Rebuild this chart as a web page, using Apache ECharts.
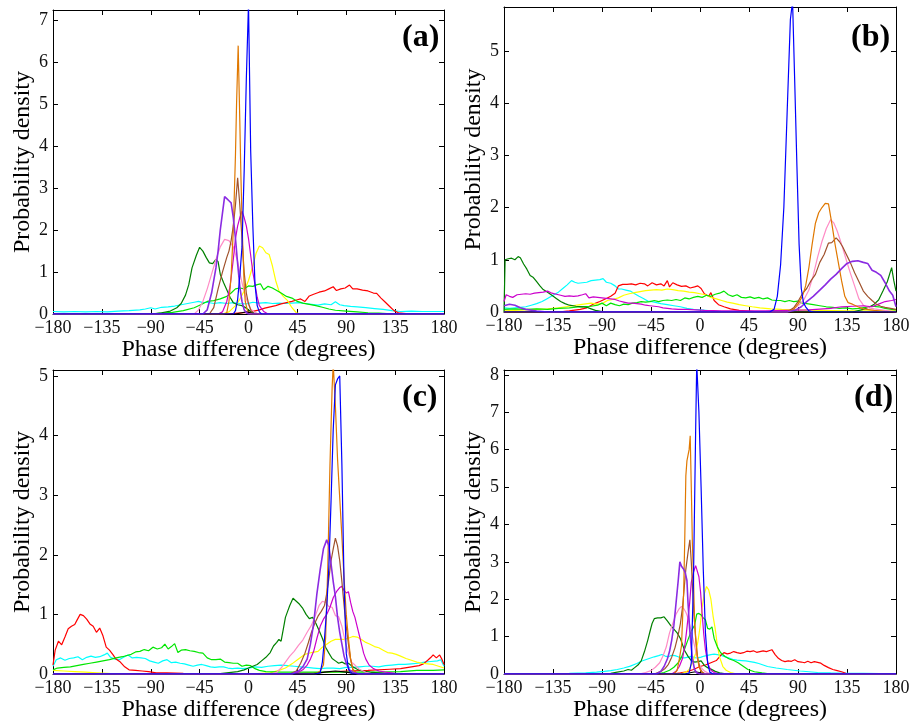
<!DOCTYPE html>
<html>
<head>
<meta charset="utf-8">
<script src="https://cdn.jsdelivr.net/npm/echarts@6/dist/echarts.min.js"></script>
<style>
  html, body { margin: 0; padding: 0; background: #fff; }
  #chart { width: 915px; height: 724px; }
</style>
</head>
<body>
<div id="chart"></div>
<script>
// x ticks (degrees) and panel labels
const xTicks = [-180, -135, -90, -45, 0, 45, 90, 135, 180];
const panelLabels = ['(a)', '(b)', '(c)', '(d)'];
const yMax = [7.25, 5.84, 5.1, 8.13];

// ---- panel (a) : [phase, density] ----
const aCyan = [[-180,0.06],[-170,0.05],[-160,0.06],[-150,0.05],[-140,0.06],[-130,0.05],[-120,0.07],[-110,0.08],[-100,0.1],[-95,0.12],[-90,0.15],[-86,0.12],[-80,0.16],[-74,0.17],[-68,0.19],[-62,0.22],[-56,0.25],[-50,0.28],[-46,0.3],[-42,0.27],[-38,0.28],[-32,0.25],[-26,0.27],[-20,0.25],[-14,0.27],[-8,0.25],[-2,0.24],[4,0.28],[10,0.26],[16,0.27],[22,0.25],[28,0.26],[34,0.25],[40,0.26],[46,0.27],[52,0.25],[58,0.23],[64,0.21],[70,0.24],[76,0.22],[80,0.29],[84,0.22],[88,0.2],[94,0.18],[100,0.17],[108,0.15],[116,0.13],[124,0.11],[132,0.08],[140,0.06],[150,0.07],[160,0.06],[170,0.06],[180,0.06]];
const aRed = [[-180,0],[-20,0],[-10,0.02],[0,0.04],[5,0.07],[10,0.1],[15,0.14],[20,0.17],[25,0.2],[30,0.24],[35,0.27],[40,0.3],[45,0.34],[48,0.36],[52,0.3],[56,0.43],[60,0.47],[65,0.52],[70,0.55],[74,0.6],[78,0.65],[81,0.56],[85,0.6],[89,0.62],[93,0.69],[96,0.6],[100,0.6],[105,0.57],[110,0.55],[115,0.5],[118,0.49],[122,0.38],[126,0.28],[130,0.18],[134,0.08],[138,0.03],[145,0.01],[160,0],[180,0]];
const aYellow = [[-180,0],[-24,0],[-18,0.05],[-12,0.2],[-8,0.35],[-4,0.55],[0,0.8],[4,1.15],[7,1.45],[10,1.62],[13,1.58],[16,1.46],[19,1.42],[22,1.15],[25,0.8],[28,0.55],[32,0.42],[36,0.32],[40,0.15],[44,0.03],[48,0],[180,0]];
const aLime = [[-180,0],[-90,0],[-80,0.02],[-70,0.04],[-60,0.08],[-50,0.15],[-44,0.22],[-38,0.3],[-32,0.32],[-26,0.36],[-20,0.42],[-16,0.5],[-12,0.6],[-8,0.62],[-4,0.6],[0,0.67],[4,0.66],[8,0.7],[11,0.72],[14,0.58],[18,0.66],[22,0.62],[26,0.56],[30,0.5],[35,0.42],[40,0.38],[45,0.3],[50,0.26],[56,0.23],[62,0.2],[68,0.16],[74,0.12],[80,0.09],[90,0.07],[100,0.05],[110,0.03],[120,0.02],[135,0],[180,0]];
const aDarkGreen = [[-180,0],[-90,0],[-80,0.03],[-72,0.07],[-66,0.15],[-62,0.25],[-58,0.45],[-55,0.7],[-52,1.1],[-48,1.4],[-45,1.59],[-42,1.5],[-39,1.35],[-36,1.22],[-33,1.2],[-30,1.3],[-28,1.25],[-26,0.95],[-23,0.75],[-20,0.58],[-17,0.4],[-14,0.27],[-10,0.22],[-6,0.2],[-2,0.14],[2,0.06],[6,0.02],[10,0],[180,0]];
const aPink = [[-180,0],[-50,0],[-46,0.1],[-42,0.3],[-38,0.6],[-34,0.95],[-30,1.3],[-26,1.6],[-22,1.78],[-18,1.75],[-14,1.6],[-10,1.25],[-6,0.75],[-2,0.35],[2,0.12],[6,0.03],[10,0],[180,0]];
const aMagenta = [[-180,0],[-28,0],[-24,0.05],[-20,0.3],[-17,0.65],[-14,1.3],[-12,1.8],[-10,2.1],[-8,2.3],[-6,2.45],[-4,2.3],[-2,2.1],[0,1.8],[2,1.4],[4,1.0],[6,0.7],[8,0.4],[10,0.2],[14,0.06],[18,0],[180,0]];
const aBrown = [[-180,0],[-36,0],[-32,0.15],[-28,0.6],[-24,1.0],[-20,1.35],[-18,1.5],[-16,1.75],[-14,2.1],[-12,2.6],[-10,3.25],[-8,2.6],[-6,1.8],[-4,1.0],[-2,0.5],[0,0.25],[2,0.1],[4,0],[180,0]];
const aOrange = [[-180,0],[-22,0],[-20,0.03],[-18,0.3],[-16,0.9],[-14,2.0],[-12,3.8],[-11,5.0],[-9.5,6.4],[-8,4.6],[-7,3.3],[-5.5,1.8],[-4,0.7],[-3,0.3],[-1,0.08],[2,0],[180,0]];
const aBlack = [[-180,0],[-12,0],[-6,0.03],[-2,0.05],[2,0.03],[6,0],[180,0]];
const aViolet = [[-180,0],[-42,0],[-38,0.1],[-34,0.5],[-30,1.1],[-28,1.5],[-26,2.0],[-24,2.4],[-22,2.8],[-20,2.75],[-18,2.7],[-16,2.65],[-14,2.3],[-12,1.8],[-10,1.2],[-8,0.65],[-6,0.3],[-4,0.1],[-2,0.03],[0,0],[180,0]];
const aBlue = [[-180,0],[-14,0],[-12,0.08],[-10,0.35],[-8,0.9],[-6,1.6],[-4,3.4],[-2,5.6],[0,7.4],[2,3.9],[4,2.1],[6,0.7],[8,0.2],[10,0.05],[12,0],[180,0]];

// ---- panel (b) ----
const bCyan = [[-180,0.08],[-175,0.07],[-170,0.08],[-165,0.09],[-160,0.1],[-155,0.13],[-150,0.16],[-145,0.2],[-140,0.26],[-135,0.32],[-130,0.38],[-126,0.45],[-122,0.52],[-118,0.6],[-115,0.57],[-112,0.55],[-108,0.56],[-104,0.57],[-100,0.6],[-96,0.61],[-92,0.62],[-89,0.64],[-86,0.57],[-82,0.55],[-78,0.5],[-75,0.44],[-72,0.44],[-68,0.42],[-64,0.4],[-60,0.35],[-56,0.3],[-52,0.26],[-48,0.21],[-44,0.2],[-40,0.18],[-36,0.16],[-30,0.14],[-24,0.12],[-18,0.1],[-12,0.07],[-6,0.05],[0,0.04],[10,0.02],[20,0.01],[100,0.01],[180,0.01]];
const bRed = [[-180,0],[-130,0],[-120,0.02],[-110,0.05],[-104,0.08],[-98,0.15],[-92,0.2],[-86,0.26],[-82,0.3],[-78,0.36],[-75,0.5],[-71,0.53],[-67,0.53],[-63,0.54],[-59,0.52],[-55,0.55],[-51,0.54],[-48,0.5],[-44,0.56],[-40,0.52],[-36,0.54],[-33,0.5],[-30,0.6],[-28,0.48],[-25,0.56],[-21,0.52],[-17,0.49],[-13,0.5],[-9,0.46],[-5,0.48],[-2,0.5],[1,0.45],[4,0.35],[8,0.3],[10,0.37],[13,0.22],[17,0.14],[22,0.1],[28,0.06],[36,0.03],[50,0.01],[70,0],[180,0]];
const bYellow = [[-180,0.02],[-170,0.03],[-160,0.04],[-150,0.05],[-140,0.06],[-130,0.08],[-120,0.11],[-110,0.14],[-100,0.17],[-95,0.15],[-90,0.16],[-85,0.22],[-80,0.24],[-75,0.27],[-70,0.32],[-65,0.35],[-60,0.37],[-55,0.39],[-50,0.41],[-45,0.42],[-40,0.43],[-35,0.42],[-30,0.44],[-25,0.43],[-20,0.41],[-15,0.4],[-10,0.38],[-5,0.37],[0,0.35],[5,0.33],[10,0.28],[15,0.25],[20,0.22],[25,0.19],[30,0.17],[36,0.14],[42,0.12],[48,0.1],[55,0.08],[65,0.06],[75,0.05],[90,0.04],[110,0.03],[135,0.02],[160,0.02],[180,0.02]];
const bLime = [[-180,0.05],[-170,0.06],[-160,0.05],[-150,0.06],[-140,0.05],[-130,0.07],[-120,0.08],[-110,0.1],[-100,0.11],[-94,0.13],[-90,0.17],[-86,0.12],[-82,0.17],[-78,0.14],[-74,0.12],[-70,0.15],[-66,0.14],[-62,0.17],[-58,0.18],[-54,0.2],[-50,0.19],[-46,0.2],[-42,0.22],[-38,0.2],[-34,0.22],[-30,0.23],[-26,0.22],[-22,0.24],[-18,0.22],[-14,0.27],[-10,0.25],[-6,0.28],[-2,0.3],[2,0.28],[6,0.32],[10,0.3],[14,0.34],[18,0.36],[22,0.4],[26,0.33],[30,0.3],[34,0.33],[38,0.28],[42,0.27],[46,0.29],[50,0.26],[54,0.28],[58,0.25],[62,0.27],[66,0.23],[70,0.22],[74,0.22],[78,0.2],[82,0.22],[86,0.2],[90,0.21],[94,0.17],[98,0.16],[104,0.14],[110,0.12],[116,0.1],[122,0.09],[128,0.07],[134,0.08],[140,0.06],[146,0.07],[152,0.09],[158,0.11],[164,0.1],[170,0.07],[176,0.05],[180,0.04]];
const bDarkGreen = [[-180,0],[-179,1.0],[-176,1.02],[-173,1.03],[-170,1.0],[-167,1.06],[-165,1.04],[-162,0.92],[-159,0.82],[-156,0.7],[-153,0.66],[-150,0.58],[-147,0.5],[-144,0.43],[-140,0.38],[-136,0.32],[-132,0.26],[-128,0.2],[-124,0.16],[-120,0.13],[-114,0.11],[-108,0.1],[-104,0.09],[-100,0.06],[-96,0.03],[-90,0.01],[-80,0],[140,0],[150,0.05],[156,0.1],[160,0.15],[164,0.23],[168,0.4],[172,0.58],[176,0.85],[178,0.6],[180,0.4]];
const bPink = [[-180,0],[80,0],[85,0.05],[90,0.12],[95,0.22],[100,0.42],[104,0.7],[108,1.05],[112,1.35],[116,1.6],[120,1.77],[123,1.7],[126,1.55],[130,1.3],[134,1.02],[138,0.75],[142,0.5],[146,0.25],[150,0.13],[155,0.08],[160,0.06],[170,0.03],[180,0]];
const bMagenta = [[-180,0.2],[-178,0.33],[-175,0.3],[-172,0.28],[-168,0.33],[-164,0.34],[-160,0.35],[-156,0.34],[-152,0.36],[-148,0.37],[-144,0.38],[-140,0.4],[-136,0.36],[-132,0.34],[-128,0.32],[-124,0.3],[-120,0.31],[-116,0.3],[-112,0.31],[-108,0.33],[-105,0.35],[-102,0.27],[-98,0.29],[-94,0.28],[-90,0.27],[-86,0.26],[-82,0.25],[-78,0.24],[-74,0.21],[-70,0.19],[-66,0.17],[-62,0.17],[-58,0.16],[-54,0.15],[-50,0.13],[-46,0.12],[-42,0.11],[-38,0.1],[-34,0.08],[-30,0.07],[-26,0.06],[-20,0.05],[-12,0.05],[-4,0.04],[4,0.03],[20,0.02],[60,0.02],[100,0.04],[120,0.07],[130,0.1],[140,0.11],[150,0.12],[158,0.1],[164,0.15],[170,0.2],[176,0.22],[180,0.24]];
const bBrown = [[-180,0],[80,0],[86,0.08],[90,0.2],[94,0.35],[98,0.45],[102,0.6],[106,0.72],[110,0.95],[114,1.1],[118,1.32],[121,1.33],[125,1.42],[128,1.35],[131,1.25],[134,1.12],[138,0.95],[142,0.75],[146,0.58],[150,0.4],[154,0.3],[158,0.22],[162,0.15],[166,0.11],[170,0.09],[175,0.07],[180,0.05]];
const bOrange = [[-180,0],[80,0],[86,0.05],[90,0.15],[94,0.3],[97,0.5],[100,0.85],[103,1.3],[106,1.7],[109,1.9],[112,2.0],[115,2.08],[118,2.07],[121,1.7],[124,1.3],[127,0.95],[130,0.6],[133,0.3],[136,0.18],[140,0.15],[145,0.1],[150,0.06],[160,0.03],[170,0.01],[180,0]];
const bBlack = [[-180,0],[180,0]];
const bViolet = [[-180,0.12],[-175,0.15],[-170,0.13],[-165,0.08],[-160,0.05],[-150,0.02],[-140,0],[80,0],[88,0.04],[93,0.1],[98,0.2],[104,0.3],[110,0.42],[115,0.52],[120,0.63],[125,0.72],[130,0.83],[135,0.93],[140,0.97],[145,0.98],[150,0.95],[154,0.93],[158,0.8],[162,0.76],[166,0.7],[170,0.56],[174,0.4],[177,0.32],[180,0.1]];
const bBlue = [[-180,0],[64,0],[68,0.05],[71,0.3],[74,0.9],[77,2.0],[80,3.8],[83,5.6],[85,5.95],[87,4.4],[89,2.8],[91,1.3],[93,0.45],[95,0.18],[97,0.1],[100,0.02],[104,0],[180,0]];

// ---- panel (c) ----
const cCyan = [[-180,0.13],[-177,0.24],[-173,0.27],[-169,0.23],[-165,0.26],[-161,0.27],[-157,0.29],[-153,0.24],[-149,0.28],[-145,0.3],[-141,0.28],[-137,0.29],[-133,0.32],[-130,0.35],[-127,0.28],[-123,0.25],[-119,0.24],[-115,0.28],[-111,0.32],[-107,0.27],[-103,0.28],[-99,0.27],[-95,0.26],[-91,0.22],[-87,0.2],[-83,0.18],[-79,0.22],[-75,0.24],[-71,0.19],[-67,0.2],[-63,0.18],[-59,0.17],[-55,0.15],[-51,0.13],[-47,0.15],[-43,0.16],[-39,0.14],[-35,0.12],[-31,0.11],[-27,0.12],[-23,0.12],[-19,0.1],[-15,0.09],[-10,0.1],[-5,0.09],[0,0.1],[6,0.12],[12,0.11],[18,0.13],[24,0.14],[30,0.15],[36,0.14],[42,0.13],[48,0.12],[54,0.11],[60,0.1],[66,0.09],[72,0.1],[78,0.1],[84,0.09],[90,0.11],[96,0.11],[102,0.12],[108,0.13],[114,0.13],[120,0.12],[126,0.14],[132,0.15],[138,0.16],[144,0.16],[150,0.17],[156,0.18],[162,0.2],[168,0.21],[174,0.22],[177,0.24],[180,0.13]];
const cRed = [[-180,0.15],[-178,0.4],[-175,0.55],[-172,0.49],[-169,0.62],[-166,0.76],[-163,0.8],[-160,0.83],[-158,0.9],[-155,1.0],[-152,0.98],[-149,0.92],[-146,0.84],[-143,0.8],[-140,0.7],[-137,0.77],[-134,0.64],[-131,0.45],[-128,0.4],[-125,0.33],[-122,0.25],[-118,0.2],[-114,0.12],[-110,0.07],[-104,0.06],[-98,0.05],[-92,0.04],[-85,0.02],[-75,0.02],[-60,0.01],[-30,0],[30,0],[60,0.02],[90,0.05],[110,0.06],[130,0.08],[140,0.09],[150,0.12],[157,0.14],[161,0.17],[165,0.23],[168,0.28],[170,0.32],[173,0.27],[176,0.32],[178,0.25],[180,0.16]];
const cYellow = [[-180,0.06],[-170,0.05],[-160,0.04],[-150,0.03],[-140,0.02],[-130,0.01],[-120,0],[0,0],[20,0.02],[28,0.06],[34,0.1],[40,0.17],[46,0.25],[52,0.33],[58,0.36],[64,0.38],[68,0.45],[72,0.5],[76,0.55],[80,0.58],[84,0.58],[88,0.58],[92,0.6],[96,0.63],[100,0.62],[104,0.58],[108,0.53],[112,0.5],[116,0.46],[120,0.44],[124,0.4],[128,0.36],[132,0.35],[136,0.33],[140,0.3],[145,0.26],[150,0.23],[155,0.2],[160,0.18],[165,0.17],[170,0.16],[175,0.13],[180,0.1]];
const cLime = [[-180,0.07],[-176,0.1],[-170,0.11],[-164,0.12],[-158,0.14],[-152,0.16],[-146,0.18],[-140,0.2],[-134,0.22],[-128,0.24],[-122,0.27],[-116,0.29],[-112,0.31],[-108,0.33],[-104,0.37],[-100,0.38],[-96,0.41],[-92,0.39],[-88,0.45],[-84,0.42],[-80,0.44],[-77,0.5],[-74,0.42],[-71,0.46],[-68,0.51],[-65,0.36],[-62,0.4],[-58,0.41],[-54,0.39],[-50,0.38],[-46,0.36],[-42,0.35],[-38,0.27],[-34,0.24],[-30,0.24],[-26,0.25],[-22,0.2],[-18,0.19],[-14,0.18],[-10,0.18],[-6,0.13],[-2,0.15],[2,0.14],[6,0.09],[10,0.06],[16,0.04],[30,0.03],[60,0.03],[90,0.03],[120,0.03],[140,0.04],[155,0.06],[170,0.06],[180,0.07]];
const cDarkGreen = [[-180,0],[-30,0],[-20,0.02],[-10,0.04],[-4,0.07],[0,0.1],[4,0.13],[8,0.16],[12,0.22],[16,0.28],[20,0.36],[23,0.47],[26,0.53],[28,0.58],[30,0.55],[32,0.75],[34,0.95],[36,1.05],[38,1.15],[41,1.27],[44,1.22],[47,1.17],[50,1.1],[53,1.0],[56,0.93],[59,0.95],[62,0.85],[65,0.73],[68,0.6],[71,0.45],[74,0.35],[77,0.26],[80,0.22],[83,0.18],[86,0.2],[89,0.17],[92,0.18],[96,0.12],[100,0.08],[105,0.05],[112,0.03],[125,0.01],[140,0],[180,0]];
const cPink = [[-180,0],[20,0],[26,0.03],[30,0.1],[34,0.2],[38,0.3],[42,0.38],[46,0.48],[50,0.57],[54,0.7],[58,0.82],[62,1.0],[65,1.15],[68,1.22],[71,1.2],[74,1.13],[77,1.12],[80,0.98],[83,0.96],[86,0.8],[89,0.55],[92,0.35],[95,0.2],[98,0.15],[102,0.08],[108,0.03],[115,0],[180,0]];
const cMagenta = [[-180,0],[40,0],[46,0.03],[50,0.07],[54,0.15],[57,0.25],[60,0.38],[63,0.6],[66,0.8],[69,0.92],[72,1.0],[75,1.12],[78,1.28],[81,1.38],[84,1.45],[86,1.47],[88,1.4],[90,1.36],[92,1.38],[94,1.2],[96,1.05],[98,0.95],[100,0.8],[102,0.65],[104,0.5],[106,0.35],[108,0.25],[111,0.15],[115,0.09],[120,0.05],[126,0.03],[135,0.01],[145,0],[180,0]];
const cBrown = [[-180,0],[38,0],[44,0.05],[48,0.18],[52,0.35],[55,0.52],[58,0.7],[61,0.85],[64,0.97],[67,1.05],[70,1.15],[72,1.35],[74,1.6],[76,1.9],[78,2.1],[80,2.28],[82,2.15],[84,1.9],[86,1.55],[88,1.15],[90,0.8],[92,0.5],[94,0.25],[96,0.08],[100,0],[180,0]];
const cBlack = [[-180,0],[60,0],[70,0.03],[80,0.05],[90,0.03],[100,0],[180,0]];
const cViolet = [[-180,0],[40,0],[46,0.05],[50,0.12],[54,0.25],[57,0.5],[60,0.85],[63,1.35],[66,1.75],[69,2.1],[72,2.25],[74,2.15],[76,1.85],[78,1.55],[80,1.3],[82,0.95],[84,0.7],[86,0.5],[88,0.3],[90,0.18],[93,0.07],[97,0.02],[102,0],[180,0]];
const cBlue = [[-180,0],[62,0],[66,0.02],[68,0.2],[70,0.6],[72,1.1],[74,1.8],[76,2.9],[78,4.1],[80,4.85],[82,4.95],[84,5.0],[86,3.5],[88,1.5],[90,0.35],[92,0.08],[95,0],[180,0]];
const cOrange = [[-180,0],[62,0],[66,0.05],[69,0.15],[71,0.6],[73,1.8],[75,3.5],[77,4.8],[78,5.2],[80,4.5],[82,3.6],[84,2.95],[86,2.3],[88,1.6],[90,1.0],[92,0.6],[94,0.25],[96,0.08],[100,0],[180,0]];

// ---- panel (d) ----
const dCyan = [[-180,0.01],[-160,0.01],[-140,0.01],[-120,0.02],[-105,0.03],[-95,0.05],[-88,0.07],[-82,0.09],[-76,0.12],[-70,0.16],[-64,0.21],[-58,0.28],[-54,0.34],[-50,0.38],[-46,0.42],[-42,0.46],[-38,0.49],[-35,0.52],[-32,0.48],[-29,0.46],[-26,0.5],[-23,0.49],[-20,0.46],[-17,0.44],[-14,0.43],[-11,0.45],[-8,0.47],[-5,0.44],[-2,0.43],[1,0.45],[4,0.48],[7,0.5],[10,0.52],[13,0.53],[16,0.52],[19,0.5],[22,0.47],[26,0.43],[30,0.39],[34,0.37],[38,0.36],[42,0.35],[46,0.33],[50,0.31],[54,0.28],[58,0.24],[62,0.2],[66,0.18],[70,0.16],[75,0.14],[80,0.12],[86,0.1],[92,0.08],[100,0.06],[108,0.04],[120,0.03],[135,0.02],[150,0.02],[165,0.01],[180,0.01]];
const dRed = [[-180,0],[-25,0],[-18,0.03],[-12,0.06],[-6,0.12],[0,0.2],[5,0.24],[10,0.3],[15,0.36],[19,0.5],[22,0.57],[25,0.54],[28,0.56],[31,0.6],[34,0.57],[37,0.55],[40,0.57],[43,0.61],[46,0.6],[49,0.62],[52,0.58],[55,0.6],[58,0.62],[61,0.6],[64,0.63],[66,0.65],[69,0.52],[72,0.42],[75,0.36],[78,0.33],[81,0.35],[84,0.34],[87,0.38],[90,0.33],[93,0.32],[96,0.3],[99,0.34],[102,0.3],[105,0.33],[108,0.31],[111,0.29],[114,0.23],[118,0.17],[122,0.12],[126,0.09],[130,0.06],[134,0.02],[140,0],[180,0]];
const dYellow = [[-180,0],[-18,0],[-13,0.05],[-10,0.12],[-7,0.3],[-4,0.55],[-2,0.85],[0,1.25],[2,1.8],[4,2.15],[6,2.34],[8,2.25],[10,2.0],[12,1.55],[14,1.2],[16,0.75],[18,0.45],[21,0.2],[24,0.1],[28,0.04],[34,0],[180,0]];
const dLime = [[-180,0],[-40,0],[-33,0.04],[-28,0.1],[-24,0.18],[-20,0.3],[-17,0.45],[-14,0.68],[-11,0.92],[-8,1.15],[-5,1.3],[-3,1.6],[-1,1.62],[1,1.58],[3,1.5],[5,1.45],[7,1.22],[9,1.2],[11,1.26],[13,0.95],[16,0.72],[19,0.57],[23,0.47],[27,0.4],[31,0.36],[35,0.3],[39,0.22],[44,0.12],[50,0.06],[57,0.03],[65,0],[180,0]];
const dDarkGreen = [[-180,0],[-90,0],[-82,0.02],[-76,0.05],[-70,0.08],[-66,0.12],[-63,0.1],[-60,0.17],[-57,0.24],[-54,0.35],[-51,0.6],[-48,0.9],[-46,1.13],[-44,1.35],[-42,1.48],[-39,1.5],[-36,1.5],[-33,1.53],[-30,1.42],[-27,1.3],[-24,1.2],[-21,1.1],[-18,0.95],[-16,0.78],[-14,0.62],[-11,0.47],[-8,0.36],[-5,0.32],[-2,0.33],[1,0.35],[4,0.23],[7,0.17],[10,0.13],[14,0.07],[18,0.03],[25,0],[180,0]];
const dPink = [[-180,0],[-56,0],[-50,0.04],[-45,0.09],[-41,0.18],[-37,0.3],[-34,0.48],[-31,0.72],[-28,1.1],[-25,1.35],[-22,1.6],[-19,1.75],[-17,1.81],[-15,1.75],[-13,1.65],[-11,1.5],[-8,1.13],[-5,0.75],[-3,0.48],[-1,0.28],[1,0.17],[4,0.08],[7,0.03],[12,0],[180,0]];
const dMagenta = [[-180,0],[-26,0],[-22,0.07],[-19,0.2],[-16,0.42],[-14,0.75],[-12.5,1.1],[-11,1.5],[-9.5,1.9],[-8,2.45],[-6,2.72],[-4,2.9],[-2.5,2.85],[-1,2.6],[0.5,2.2],[2,1.6],[3.5,1.05],[5,0.65],[6.5,0.4],[8,0.22],[10,0.1],[13,0.04],[18,0],[180,0]];
const dBrown = [[-180,0],[-42,0],[-36,0.07],[-32,0.15],[-29,0.26],[-26,0.45],[-23,0.7],[-20,1.05],[-18,1.35],[-16,1.8],[-14.5,2.3],[-13,2.8],[-11,3.25],[-9.3,3.59],[-8,3.0],[-7,2.4],[-5.5,1.6],[-4,0.95],[-2,0.4],[0,0.15],[2,0.05],[5,0],[180,0]];
const dOrange = [[-180,0],[-24,0],[-21,0.1],[-19,0.4],[-17,0.75],[-15,2.2],[-14,3.6],[-13,5.3],[-12,5.7],[-10,6.0],[-9,6.37],[-8,5.0],[-7,3.5],[-6,2.6],[-5,1.4],[-3,0.6],[-1,0.2],[1,0.07],[4,0],[180,0]];
const dBlack = [[-180,0],[-14,0],[-8,0.04],[-4,0.06],[0,0.03],[4,0],[180,0]];
const dViolet = [[-180,0],[-40,0],[-36,0.07],[-33,0.2],[-30,0.4],[-28,0.6],[-26,0.9],[-24,1.3],[-22,1.9],[-20,2.5],[-18.5,3.0],[-17,2.88],[-15,2.8],[-13.5,2.7],[-12,2.5],[-11,1.9],[-9.5,1.2],[-8,0.7],[-7,0.42],[-5,0.12],[-3,0.03],[0,0],[180,0]];
const dBlue = [[-180,0],[-12,0],[-10,0.02],[-8,0.3],[-6,2.5],[-4,6.5],[-3,8.3],[-1,7.0],[1,5.0],[3,2.8],[5,1.1],[7,0.3],[9,0.05],[12,0],[180,0]];

// colours, drawing order = list order
const colors = {
  cyan: '#00ffff', red: '#ff0000', yellow: '#ffff00', lime: '#00e600',
  darkGreen: '#008000', pink: '#ff8cc6', magenta: '#cc00cc', brown: '#a0522d',
  orange: '#e07800', black: '#000000', violet: '#8a2be2', blue: '#0000ff'
};
const order = ['cyan','red','yellow','lime','darkGreen','pink','magenta','brown','orange','black','violet','blue'];
const panels = [
  { cyan: aCyan, red: aRed, yellow: aYellow, lime: aLime, darkGreen: aDarkGreen, pink: aPink, magenta: aMagenta, brown: aBrown, orange: aOrange, black: aBlack, violet: aViolet, blue: aBlue },
  { cyan: bCyan, red: bRed, yellow: bYellow, lime: bLime, darkGreen: bDarkGreen, pink: bPink, magenta: bMagenta, brown: bBrown, orange: bOrange, black: bBlack, violet: bViolet, blue: bBlue },
  { cyan: cCyan, red: cRed, yellow: cYellow, lime: cLime, darkGreen: cDarkGreen, pink: cPink, magenta: cMagenta, brown: cBrown, orange: cOrange, black: cBlack, violet: cViolet, blue: cBlue },
  { cyan: dCyan, red: dRed, yellow: dYellow, lime: dLime, darkGreen: dDarkGreen, pink: dPink, magenta: dMagenta, brown: dBrown, orange: dOrange, black: dBlack, violet: dViolet, blue: dBlue }
];

const grids = [
  { left: 53, top: 10, width: 391, height: 304 },
  { left: 504, top: 7, width: 392, height: 305 },
  { left: 53, top: 370, width: 391, height: 304 },
  { left: 504, top: 370, width: 392, height: 304 }
];
const labelPos = [
  { left: 397, top: 17 }, { left: 846, top: 17 },
  { left: 397, top: 377 }, { left: 849, top: 377 }
];

const font = "'Liberation Serif', 'Times New Roman', serif";
const minus = v => (v < 0 ? '\u2212' + Math.abs(v) : String(v));
const tick = { show: true, inside: true, length: 5, lineStyle: { color: '#000', width: 1 } };
const line = { show: true, onZero: false, lineStyle: { color: '#000', width: 1 } };

let chart = echarts.init(document.getElementById('chart'));
let option = { animation: false, backgroundColor: '#fff', grid: [], xAxis: [], yAxis: [], series: [], title: [] };

grids.forEach((g, i) => {
  option.grid.push(Object.assign({ containLabel: false }, g));
  option.xAxis.push({
    type: 'value', gridIndex: i, min: -180, max: 180, interval: 45,
    axisLine: line, axisTick: tick, splitLine: { show: false },
    axisLabel: { color: '#111', fontFamily: font, fontSize: 18, margin: 5, formatter: minus },
    name: 'Phase difference (degrees)', nameLocation: 'middle', nameGap: 21,
    nameTextStyle: { color: '#000', fontFamily: font, fontSize: 24 }
  });
  option.yAxis.push({
    type: 'value', gridIndex: i, min: 0, max: yMax[i], interval: 1,
    axisLine: line, axisTick: tick, splitLine: { show: false },
    axisLabel: { color: '#111', fontFamily: font, fontSize: 18, margin: 5, showMaxLabel: false },
    name: 'Probability density', nameLocation: 'middle', nameGap: 18,
    nameTextStyle: { color: '#000', fontFamily: font, fontSize: 24 }
  });
  option.title.push({
    text: panelLabels[i], left: labelPos[i].left, top: labelPos[i].top,
    textStyle: { fontFamily: font, fontSize: 32, fontWeight: 'bold', color: '#000' }
  });
});
// mirrored ticks on top and right edges
grids.forEach((g, i) => {
  option.xAxis.push({
    type: 'value', gridIndex: i, position: 'top', min: -180, max: 180, interval: 45,
    axisLine: line, axisTick: tick, axisLabel: { show: false }, splitLine: { show: false }
  });
  option.yAxis.push({
    type: 'value', gridIndex: i, position: 'right', min: 0, max: yMax[i], interval: 1,
    axisLine: line, axisTick: tick, axisLabel: { show: false }, splitLine: { show: false }
  });
});

panels.forEach((p, i) => {
  order.forEach(key => {
    option.series.push({
      type: 'line', xAxisIndex: i, yAxisIndex: i, data: p[key],
      showSymbol: false, symbol: 'none', clip: true, silent: true,
      lineStyle: { color: colors[key], width: key === 'violet' ? 1.6 : 1.2 },
      itemStyle: { color: colors[key] }
    });
  });
});

chart.setOption(option);
</script>
</body>
</html>
